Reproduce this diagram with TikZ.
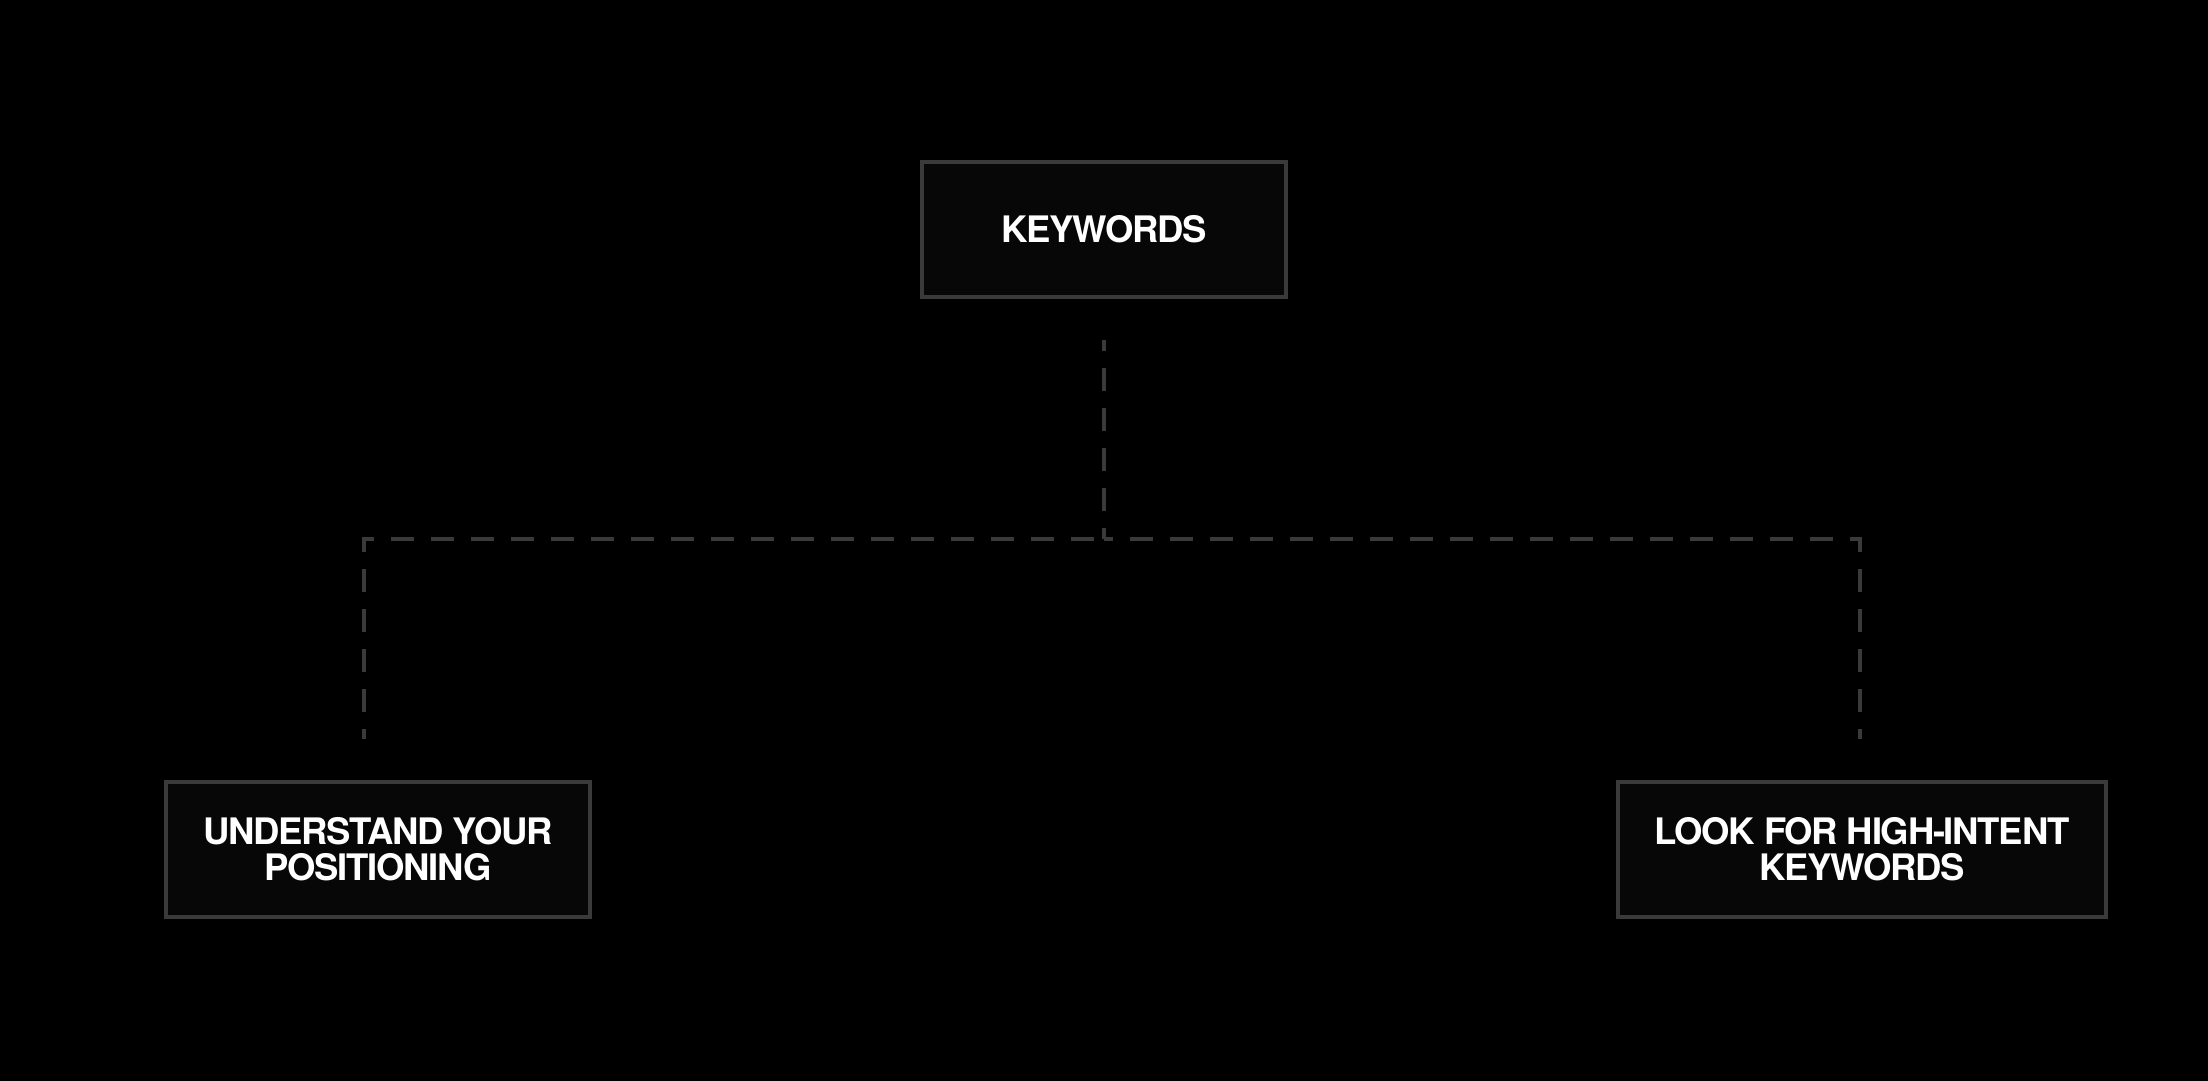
\documentclass[tikz,border=0pt]{standalone}
\usepackage{fontspec}
\setmainfont{TeX Gyre Heros}
\usetikzlibrary{positioning}
\definecolor{edgegray}{HTML}{3A3A3A}
\definecolor{boxfill}{HTML}{070707}
\begin{document}
\begin{tikzpicture}[x=1pt,y=-1pt,
  box/.style={draw=edgegray,fill=boxfill,line width=4pt,align=center,inner sep=0pt,
    minimum height=135pt,text=white,
    font=\addfontfeatures{LetterSpace=-3.5}\fontsize{36.5}{36}\selectfont\bfseries},
  link/.style={draw=edgegray,line width=3.5pt,dash pattern=on 23pt off 17pt}]
  \useasboundingbox (0,0) rectangle (2208,1080);
  \fill[black] (-5,-5) rectangle (2213,1085);
  \node[box,minimum width=364pt] (kw) at (1104,229.5) {KEYWORDS};
  \node[box,minimum width=424pt,below=481pt of kw,xshift=-726pt] (pos)
    {UNDERSTAND YOUR\\ POSITIONING};
  \node[box,minimum width=488pt,below=481pt of kw,xshift=758pt] (intent)
    {LOOK FOR HIGH-INTENT\\ KEYWORDS};
  % dashed tree
  \coordinate (kwout) at ([yshift=-41pt]kw.south);
  \coordinate (hub) at (1104,539);
  \coordinate (lcorner) at (364,539);
  \coordinate (rcorner) at (1860,539);
  \coordinate (posin) at (364,739);
  \coordinate (intentin) at (1860,739);
  \draw[link,dash phase=12pt] (kwout) -- (hub);
  \draw[link,dash phase=30pt] (hub) -- (lcorner) -- (posin);
  \draw[link,dash phase=14pt] (hub) -- (rcorner) -- (intentin);
\end{tikzpicture}
\end{document}
